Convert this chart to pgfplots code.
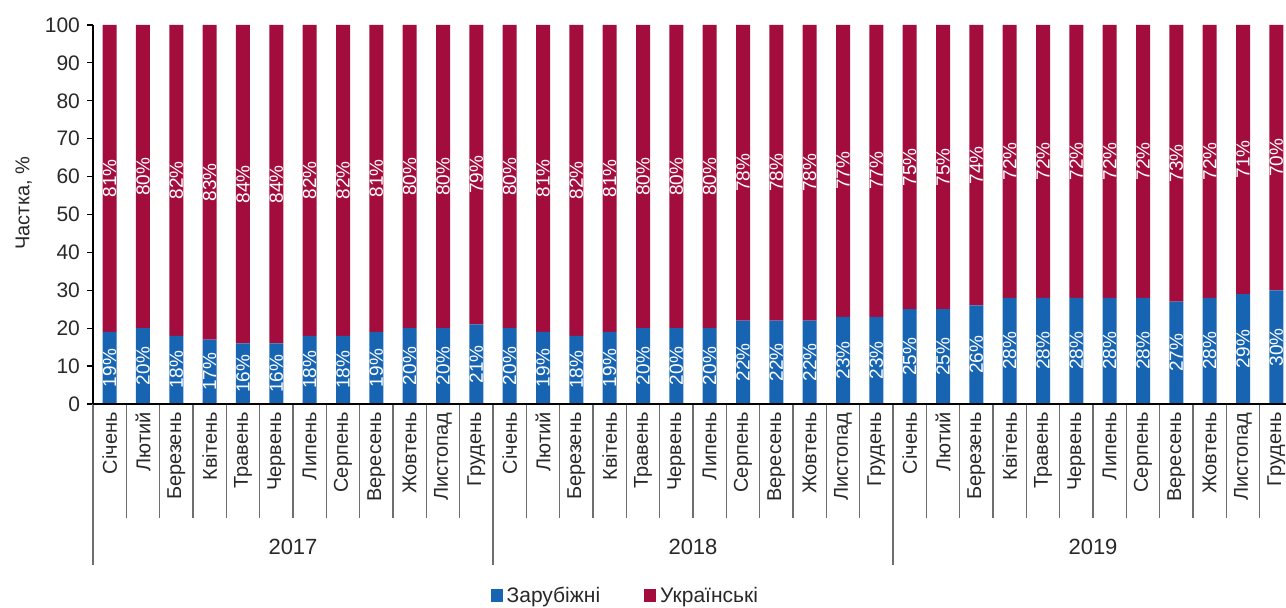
\documentclass[border=0pt]{standalone}
\usepackage{fontspec}
\setmainfont{Liberation Sans}
\usepackage{pgfplots}
\usepackage{pgfplotstable}
\pgfplotsset{compat=1.18}
\definecolor{cblue}{RGB}{22,100,178}
\definecolor{cred}{RGB}{163,13,62}
\definecolor{ctext}{RGB}{40,40,40}
\definecolor{csep}{RGB}{110,110,110}

\pgfplotstableread{
x f u
0 19 81
1 20 80
2 18 82
3 17 83
4 16 84
5 16 84
6 18 82
7 18 82
8 19 81
9 20 80
10 20 80
11 21 79
12 20 80
13 19 81
14 18 82
15 19 81
16 20 80
17 20 80
18 20 80
19 22 78
20 22 78
21 22 78
22 23 77
23 23 77
24 25 75
25 25 75
26 26 74
27 28 72
28 28 72
29 28 72
30 28 72
31 28 72
32 27 73
33 28 72
34 29 71
35 30 70
}\datatab

\begin{document}
\begin{tikzpicture}
\path[use as bounding box] (-46.5pt,-102pt) rectangle (596.5pt,202pt);
\pgfplotsset{
  base/.style={
    width=596.5pt, height=189.5pt, scale only axis,
    at={(0pt,0pt)}, anchor=south west,
    xmin=-0.5, xmax=35.29, ymin=0, ymax=100,
    /pgf/number format/assume math mode=true,
  }
}
\begin{axis}[base,
  ybar stacked, bar width=7pt,
  axis lines*=left,
  axis line style={black, line width=0.6pt},
  tick align=outside,
  ytick={0,10,...,100},
  major tick length=3pt,
  ytick style={black, line width=0.6pt},
  yticklabel style={font=\fontsize{10.5}{12}\selectfont, text=ctext},
  xtick={0,...,35},
  xticklabels={Січень,Лютий,Березень,Квітень,Травень,Червень,Липень,Серпень,Вересень,Жовтень,Листопад,Грудень,Січень,Лютий,Березень,Квітень,Травень,Червень,Липень,Серпень,Вересень,Жовтень,Листопад,Грудень,Січень,Лютий,Березень,Квітень,Травень,Червень,Липень,Серпень,Вересень,Жовтень,Листопад,Грудень},
  xticklabel style={rotate=90, anchor=east, font=\fontsize{10}{12}\selectfont, text=ctext, inner sep=1pt},
  major x tick style={draw=none},
  minor x tick num=1,
  minor tick length=57pt,
  minor x tick style={draw=csep, line width=0.6pt},
  ylabel={Частка, \%},
  every axis y label/.style={at={(axis description cs:-0.058,0.53)}, rotate=90, anchor=center, font=\fontsize{10}{12}\selectfont, text=ctext},
  legend style={at={(axis description cs:0.447,-0.5066)}, anchor=center, draw=none, fill=none,
    legend columns=2, font=\fontsize{10.5}{12}\selectfont, text=ctext,
    /tikz/every even column/.append style={column sep=20pt}},
  legend image code/.code={\fill[#1] (0pt,-3pt) rectangle (6pt,3.5pt);},
]
\addplot[fill=cblue, draw=none] table[x=x, y=f]{\datatab};
\addlegendentry{Зарубіжні}
\addplot[fill=cred, draw=none] table[x=x, y=u]{\datatab};
\addlegendentry{Українські}
\end{axis}

\begin{axis}[base, clip=false,
  axis x line*=bottom, axis y line=none,
  axis line style={black, line width=0.6pt},
  tick align=outside,
  xtick={-0.5,11.5,23.5}, xticklabels={},
  ytick=\empty,
  major tick length=80.5pt,
  xtick style={draw=csep, line width=0.6pt},
  point meta=explicit,
  nodes near coords={\pgfmathprintnumber{\pgfplotspointmeta}\%},
  every node near coord/.style={rotate=90, anchor=center, font=\fontsize{9.5}{11}\selectfont, text=white, inner sep=0pt},
]
\addplot[draw=none, mark=none] table[x=x, y expr=\thisrow{f}/2, meta=f]{\datatab};
\addplot[draw=none, mark=none] table[x=x, y expr=\thisrow{f}+\thisrow{u}/2, meta=u]{\datatab};
\node[font=\fontsize{11}{13}\selectfont, text=ctext] at (axis cs:5.5,0) [yshift=-71.5pt] {2017};
\node[font=\fontsize{11}{13}\selectfont, text=ctext] at (axis cs:17.5,0) [yshift=-71.5pt] {2018};
\node[font=\fontsize{11}{13}\selectfont, text=ctext] at (axis cs:29.5,0) [yshift=-71.5pt] {2019};
\end{axis}
\end{tikzpicture}
\end{document}
